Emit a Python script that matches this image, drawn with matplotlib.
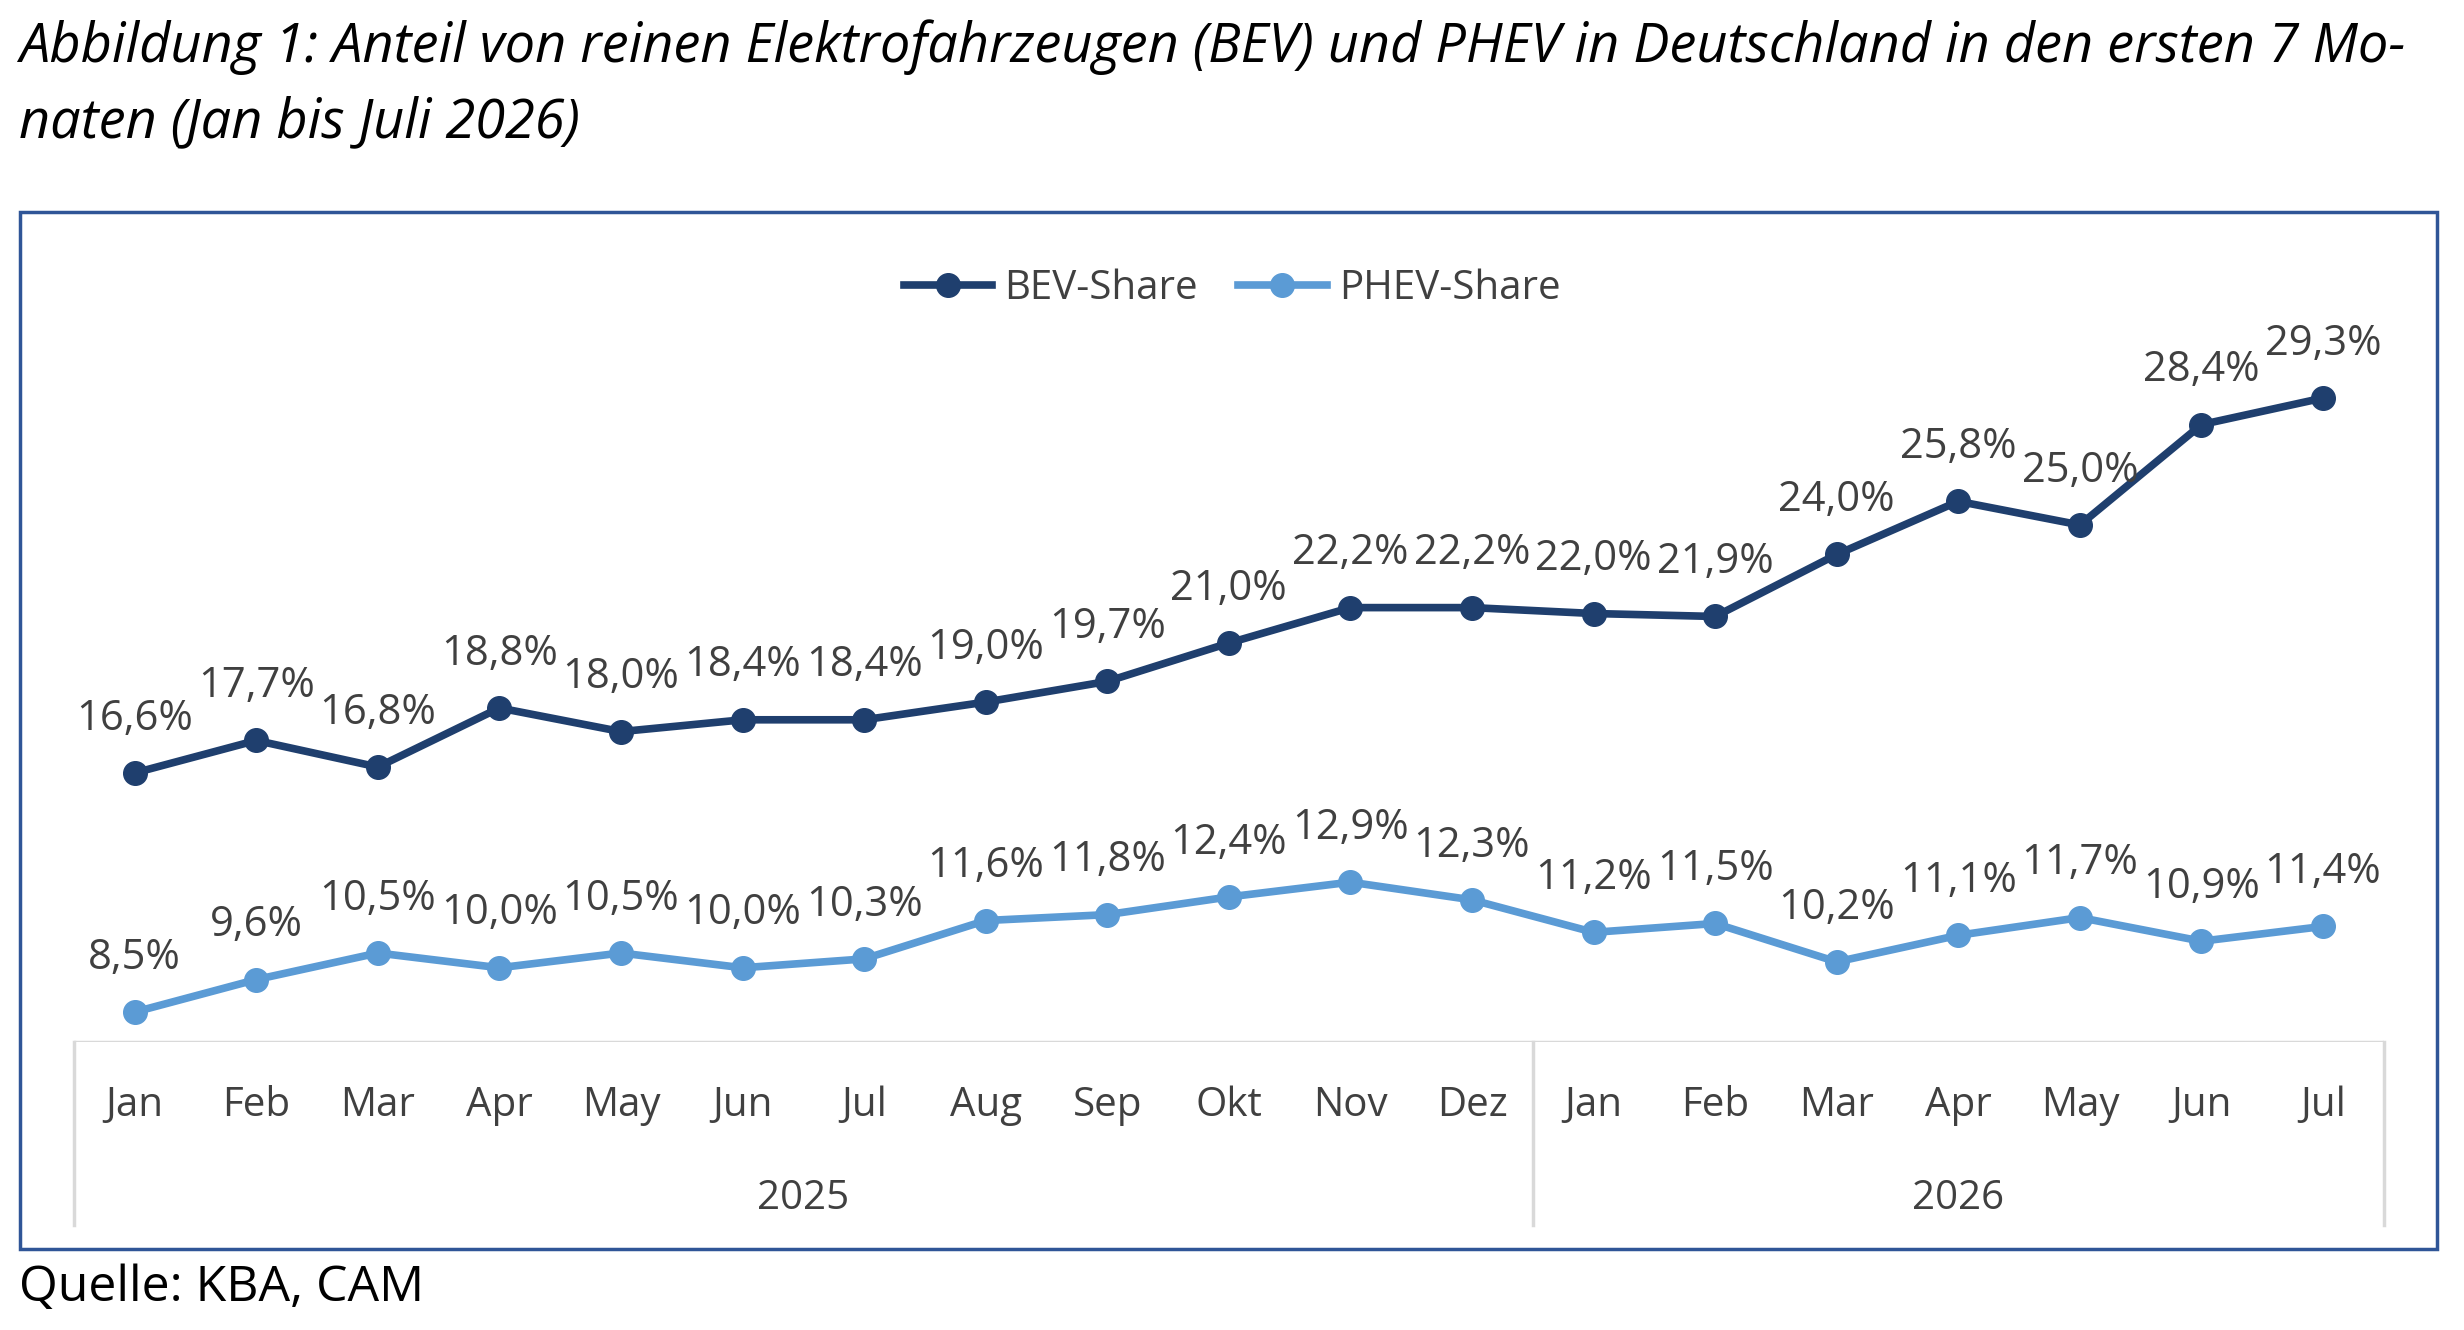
import matplotlib
matplotlib.use('Agg')
import matplotlib.pyplot as plt
from matplotlib.patches import Rectangle
from matplotlib.lines import Line2D

months = ['Jan', 'Feb', 'Mar', 'Apr', 'May', 'Jun', 'Jul', 'Aug', 'Sep', 'Okt', 'Nov', 'Dez',
          'Jan', 'Feb', 'Mar', 'Apr', 'May', 'Jun', 'Jul']
years = ['2025', '2026']
bev = [16.6, 17.7, 16.8, 18.8, 18.0, 18.4, 18.4, 19.0, 19.7, 21.0, 22.2, 22.2,
       22.0, 21.9, 24.0, 25.8, 25.0, 28.4, 29.3]
phev = [8.5, 9.6, 10.5, 10.0, 10.5, 10.0, 10.3, 11.6, 11.8, 12.4, 12.9, 12.3,
        11.2, 11.5, 10.2, 11.1, 11.7, 10.9, 11.4]

plt.rcParams['font.family'] = ['Open Sans', 'DejaVu Sans']
fig = plt.figure(figsize=(24.64, 13.3), dpi=100)
W, H = 1568, 846.6

def fx(x): return x / W
def fy(y): return 1 - y / H

# frame
fig.patches.append(Rectangle((fx(13), fy(795)), fx(1551) - fx(13), fy(135) - fy(795),
                             transform=fig.transFigure, fill=False, ec='#2F5597', lw=2.5))
fig.text(fx(12), fy(30), 'Abbildung 1: Anteil von reinen Elektrofahrzeugen (BEV) und PHEV in Deutschland in den ersten 7 Mo-',
         fontsize=39, style='italic', va='center', color='black')
fig.text(fx(12), fy(78), 'naten (Jan bis Juli 2026)', fontsize=39, style='italic', va='center', color='black')
fig.text(fx(12), fy(820), 'Quelle: KBA, CAM', fontsize=36, va='center', color='black')

ax = fig.add_axes([fx(47), fy(663), fx(1517) - fx(47), fy(150) - fy(663)])
x = list(range(len(months)))
cb, cp = '#1F3F6E', '#5B9BD5'
ax.plot(x, bev, color=cb, lw=5.5, marker='o', ms=17, label='BEV-Share')
ax.plot(x, phev, color=cp, lw=5.5, marker='o', ms=17, label='PHEV-Share')
for i in x:
    ax.annotate(f'{bev[i]:.1f}%'.replace('.', ','), (i, bev[i]), xytext=(0, 24), textcoords='offset points',
                ha='center', va='bottom', fontsize=30, color='#404040')
    ax.annotate(f'{phev[i]:.1f}%'.replace('.', ','), (i, phev[i]), xytext=(0, 24), textcoords='offset points',
                ha='center', va='bottom', fontsize=30, color='#404040')
ax.set_xlim(-0.5, 18.5)
ax.set_ylim(7.5, 34.8)
ax.axis('off')
ax.axhline(7.5, color='#D9D9D9', lw=2.5)

bt = matplotlib.transforms.blended_transform_factory(ax.transData, fig.transFigure)
for i, m in enumerate(months):
    ax.text(i, fy(704), m, transform=bt, ha='center', va='center', fontsize=29, color='#404040')
for xv in [-0.5, 11.5, 18.5]:
    ax.add_line(Line2D([xv, xv], [fy(663), fy(780)], transform=bt, color='#D9D9D9', lw=2.5, clip_on=False))
ax.text(5.5, fy(763), years[0], transform=bt, ha='center', va='center', fontsize=29, color='#404040')
ax.text(15, fy(763), years[1], transform=bt, ha='center', va='center', fontsize=29, color='#404040')

ax.legend(loc='center', bbox_to_anchor=(0.5, fy(184)), bbox_transform=fig.transFigure, ncol=2,
          frameon=False, fontsize=29, labelcolor='#404040', handlelength=2.2, columnspacing=1.0, handletextpad=0.3)

fig.savefig('out.png')
